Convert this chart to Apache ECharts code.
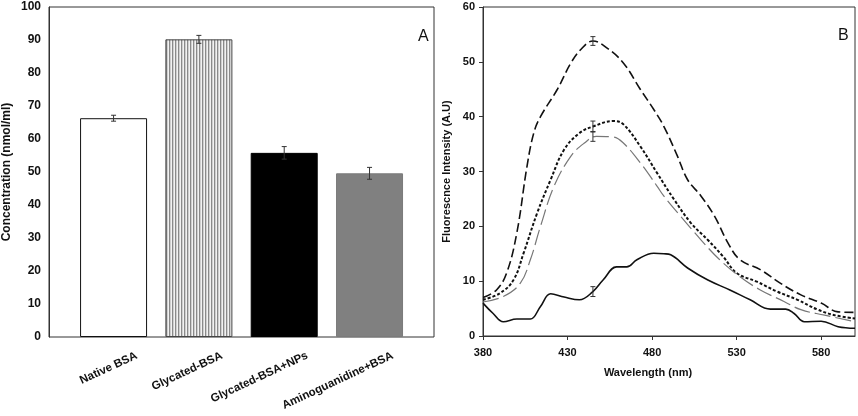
<!DOCTYPE html>
<html>
<head>
<meta charset="utf-8">
<script src="https://cdn.jsdelivr.net/npm/echarts@6/dist/echarts.min.js"></script>
<style>
html, body { margin: 0; padding: 0; background: #fff; }
#main { width: 858px; height: 416px; }
</style>
</head>
<body>
<div id="main"></div>
<script>
/*
 * A: 浓度柱状图
 */
var barNames = ['Native BSA', 'Glycated-BSA', 'Glycated-BSA+NPs', 'Aminoguanidine+BSA'];
var barValues = [66.3, 90.2, 55.8, 49.6];
var barErrors = [0.9, 1.2, 1.9, 1.8];

/*
 * B: 荧光光谱 (wavelength, intensity)
 */
var glycatedCurve = [
	[380, 7.0], [388, 8.4], [394, 11.5], [400, 18.8], [406, 30.9], [410, 37.0], [414, 40.0],
	[424, 45.0], [432, 49.8], [438, 52.3], [445, 53.8], [453, 52.6], [463, 49.8], [473, 45.0],
	[481, 41.3], [487, 38.2], [495, 32.8], [501, 28.5], [509, 25.5], [517, 21.8], [525, 16.9],
	[532, 13.9], [544, 12.1], [556, 9.6], [568, 7.5], [580, 6.0], [590, 4.4], [600, 4.3]
];
var npsCurve = [
	[380, 6.6], [390, 7.8], [398, 10.2], [404, 15.1], [412, 22.4], [420, 28.5], [428, 34.0],
	[437, 37.0], [445, 38.2], [457, 39.2], [463, 38.6], [473, 34.6], [483, 29.7], [493, 24.9],
	[503, 20.6], [513, 17.5], [522, 14.5], [530, 11.5], [542, 9.9], [554, 8.1], [566, 6.6],
	[578, 4.8], [588, 3.8], [600, 3.2]
];
var aminoCurve = [
	[380, 6.2], [392, 7.2], [402, 9.6], [408, 13.9], [414, 20.0], [422, 27.3], [432, 32.8],
	[440, 35.2], [447, 36.4], [457, 36.3], [463, 35.2], [473, 31.6], [483, 27.3], [487, 25.5],
	[497, 21.8], [509, 17.5], [520, 13.9], [532, 10.8], [544, 8.4], [558, 6.3], [568, 4.8],
	[582, 3.8], [600, 2.6]
];
var nativeCurve = [
	[380, 6.0], [386, 4.1], [392, 2.6], [400, 3.1], [408, 3.1], [414, 5.4], [420, 7.7],
	[428, 7.1], [437, 6.6], [445, 8.1], [451, 10.2], [459, 12.6], [465, 12.6], [471, 13.9],
	[481, 15.1], [487, 15.0], [491, 14.8], [501, 12.4], [513, 10.2], [526, 8.4], [538, 6.6],
	[550, 4.9], [559, 4.9], [564, 4.1], [570, 2.6], [580, 2.7], [590, 1.7], [600, 1.4]
];
var curveErrX = [445, 445, 445, 445];
var curveErrY = [53.8, 38.2, 36.4, 8.1];
var curveErr = [0.8, 1.0, 0.9, 0.9];

var xTicksB = [380, 600, 50];

// 竖条纹填充
var stripe = document.createElement('canvas');
stripe.width = 3;
stripe.height = 4;
var sctx = stripe.getContext('2d');
sctx.fillStyle = '#f2f2f2'; sctx.fillRect(0, 0, 1, 4);
sctx.fillStyle = '#8a8a8a'; sctx.fillRect(1, 0, 1, 4);
sctx.fillStyle = '#cfcfcf'; sctx.fillRect(2, 0, 1, 4);

var barStyles = [
	{ color: '#ffffff', borderColor: '#111', borderWidth: 1 },
	{ color: { image: stripe, repeat: 'repeat' }, borderColor: '#444', borderWidth: 1 },
	{ color: '#000000', borderColor: '#000', borderWidth: 1 },
	{ color: '#808080', borderColor: '#7a7a7a', borderWidth: 1 }
];

var boldFont = 'Arial, "Liberation Sans", sans-serif';

function errorBar(pairs, gridIdx) {
	return {
		type: 'custom',
		xAxisIndex: gridIdx,
		yAxisIndex: gridIdx,
		silent: true,
		z: 10,
		data: pairs,
		renderItem: function (params, api) {
			var lo = api.coord([api.value(0), api.value(1) - api.value(2)]);
			var hi = api.coord([api.value(0), api.value(1) + api.value(2)]);
			var w = 2.5;
			var st = { stroke: '#333', lineWidth: 1 };
			return {
				type: 'group',
				children: [
					{ type: 'line', shape: { x1: hi[0], y1: hi[1], x2: lo[0], y2: lo[1] }, style: st },
					{ type: 'line', shape: { x1: hi[0] - w, y1: hi[1], x2: hi[0] + w, y2: hi[1] }, style: st },
					{ type: 'line', shape: { x1: lo[0] - w, y1: lo[1], x2: lo[0] + w, y2: lo[1] }, style: st }
				]
			};
		}
	};
}

var barErrPairs = barValues.map(function (v, i) { return [i, v, barErrors[i]]; });
var curveErrPairs = curveErrX.map(function (x, i) { return [x, curveErrY[i], curveErr[i]]; });

var chart = echarts.init(document.getElementById('main'));
var option = {
	animation: false,
	title: [
		{ text: 'A', left: 413, top: 24, textStyle: { fontSize: 16, fontWeight: 'normal', color: '#111', fontFamily: boldFont } },
		{ text: 'B', left: 833, top: 23, textStyle: { fontSize: 16, fontWeight: 'normal', color: '#111', fontFamily: boldFont } }
	],
	grid: [
		{ left: 48, top: 7, width: 386, height: 330, show: true, borderColor: '#333', borderWidth: 1 },
		{ left: 70.9, top: 7, width: 341.3, height: 330 },
		{ left: 94, top: 7, width: 341.3, height: 330 },
		{ left: 483, top: 7, width: 372, height: 329, show: true, borderColor: '#333', borderWidth: 1 }
	],
	xAxis: [
		{ gridIndex: 0, type: 'value', min: 0, max: 1, show: false },
		{ gridIndex: 1, type: 'category', data: barNames, axisLine: { show: false }, axisTick: { show: false }, axisLabel: { show: false } },
		{
			gridIndex: 2, type: 'category', data: barNames,
			axisLine: { show: false }, axisTick: { show: false },
			axisLabel: { rotate: 25, margin: 18, fontSize: 11.5, fontWeight: 'bold', color: '#111', fontFamily: boldFont }
		},
		{
			gridIndex: 3, type: 'value', min: xTicksB[0], max: xTicksB[1], interval: xTicksB[2],
			name: 'Wavelength (nm)', nameLocation: 'middle', nameGap: 31,
			nameTextStyle: { fontSize: 11, fontWeight: 'bold', color: '#111', fontFamily: boldFont, padding: [0, 42, 0, 0] },
			axisLine: { lineStyle: { color: '#333' } },
			axisTick: { inside: false, length: 4, lineStyle: { color: '#333' } },
			splitLine: { show: false },
			axisLabel: { showMaxLabel: false, margin: 11, fontSize: 11, fontWeight: 'bold', color: '#111', fontFamily: boldFont }
		}
	],
	yAxis: [
		{
			gridIndex: 0, type: 'value', min: 0, max: 100, interval: 10,
			name: 'Concentration (nmol/ml)', nameLocation: 'middle', nameGap: 36,
			nameTextStyle: { fontSize: 12, fontWeight: 'bold', color: '#111', fontFamily: boldFont },
			axisLine: { show: true, lineStyle: { color: '#333' } },
			axisTick: { show: false },
			splitLine: { show: false },
			axisLabel: { margin: 8, fontSize: 12, fontWeight: 'bold', color: '#111', fontFamily: boldFont }
		},
		{ gridIndex: 1, type: 'value', min: 0, max: 100, show: false },
		{ gridIndex: 2, type: 'value', min: 0, max: 100, show: false },
		{
			gridIndex: 3, type: 'value', min: 0, max: 60, interval: 10,
			name: 'Fluorescnce Intensity (A.U)', nameLocation: 'middle', nameGap: 31,
			nameTextStyle: { fontSize: 11, fontWeight: 'bold', color: '#111', fontFamily: boldFont },
			axisLine: { show: true, lineStyle: { color: '#333' } },
			axisTick: { show: true, length: 4, lineStyle: { color: '#333' } },
			splitLine: { show: false },
			axisLabel: { margin: 8, fontSize: 11, fontWeight: 'bold', color: '#111', fontFamily: boldFont }
		}
	],
	series: [
		{
			type: 'bar', xAxisIndex: 1, yAxisIndex: 1, barWidth: 67,
			data: barValues.map(function (v, i) { return { value: v, itemStyle: barStyles[i] }; })
		},
		errorBar(barErrPairs, 1),
		{
			type: 'line', xAxisIndex: 3, yAxisIndex: 3, data: glycatedCurve, smooth: 0.4, showSymbol: false,
			lineStyle: { color: '#111', width: 1.6, type: [9, 4] }
		},
		{
			type: 'line', xAxisIndex: 3, yAxisIndex: 3, data: npsCurve, smooth: 0.4, showSymbol: false,
			lineStyle: { color: '#111', width: 2, type: [3, 2] }
		},
		{
			type: 'line', xAxisIndex: 3, yAxisIndex: 3, data: aminoCurve, smooth: 0.4, showSymbol: false,
			lineStyle: { color: '#777', width: 1.2, type: [16, 5] }
		},
		{
			type: 'line', xAxisIndex: 3, yAxisIndex: 3, data: nativeCurve, smooth: 0.4, showSymbol: false,
			lineStyle: { color: '#111', width: 1.6 }
		},
		errorBar(curveErrPairs, 3)
	]
};
chart.setOption(option);
</script>
</body>
</html>
